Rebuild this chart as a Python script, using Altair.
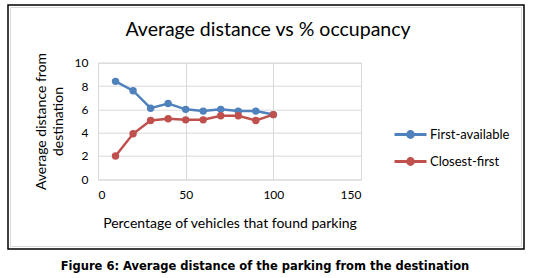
import altair as alt
import pandas as pd

pct = [10, 20, 30, 40, 50, 60, 70, 80, 90, 100]
first_available = [8.4, 7.6, 6.1, 6.5, 6.0, 5.85, 6.0, 5.85, 5.85, 5.55]
closest_first = [2.0, 3.9, 5.05, 5.2, 5.1, 5.1, 5.45, 5.45, 5.05, 5.55]
series_names = ["First-available", "Closest-first"]
series_colors = ["#4F81BD", "#C0504D"]
x_ticks = [0, 50, 100, 150]
y_ticks = [0, 2, 4, 6, 8, 10]
chart_title = "Average distance vs % occupancy"
x_title = "Percentage of vehicles that found parking"
y_title = ["Average distance from", "destination"]
caption = ["Figure 6: Average distance of the parking from the destination"]

rows = []
for name, vals in zip(series_names, [first_available, closest_first]):
    for p, v in zip(pct, vals):
        rows.append({"pct": p, "dist": v, "series": name})
df = pd.DataFrame(rows)

FONT = "Lato"
W, H = 263, 116.6
L, T = 98, 62.7

one = pd.DataFrame({"a": [0]})
frame_outer = alt.Chart(one).mark_rect(fill=None, stroke="#000000", strokeWidth=1.5).encode(
    x=alt.value(8 - L), x2=alt.value(524 - L), y=alt.value(5 - T), y2=alt.value(249 - T)
)
frame_inner = alt.Chart(one).mark_rect(fill=None, stroke="#D9D9D9", strokeWidth=1).encode(
    x=alt.value(10.5 - L), x2=alt.value(521.5 - L), y=alt.value(7.5 - T), y2=alt.value(246.5 - T)
)
cap = alt.Chart(pd.DataFrame({"t": caption})).mark_text(
    font="DejaVu Sans", fontSize=11.5, fontWeight="bold", color="#000000", align="center", baseline="middle"
).encode(text="t:N", x=alt.value(265 - L), y=alt.value(267 - T))

color = alt.Color(
    "series:N",
    scale=alt.Scale(domain=series_names, range=series_colors),
    legend=alt.Legend(
        title=None,
        orient="none",
        legendX=393 - L,
        legendY=133 - T - 16,
        symbolType="M-1,0L1,0M0.18,0A0.18,0.18,0,1,1,-0.18,0A0.18,0.18,0,1,1,0.18,0Z",
        symbolSize=1024,
        symbolStrokeWidth=3,
        labelFont=FONT,
        labelFontSize=13,
        labelColor="#000000",
        labelOffset=2,
        rowPadding=-6,
    ),
)

lines = alt.Chart(df).mark_line(
    strokeWidth=2.5,
    point=alt.OverlayMarkDef(filled=True, size=55),
).encode(
    x=alt.X("pct:Q", scale=alt.Scale(domain=[0, 150], nice=False),
            axis=alt.Axis(values=x_ticks, title=x_title, titlePadding=16)),
    y=alt.Y("dist:Q", scale=alt.Scale(domain=[0, 10], nice=False),
            axis=alt.Axis(values=y_ticks, title=y_title, titleX=41 - L, titleY=H / 2,
                          titleBaseline="middle", titleAngle=270, titleLineHeight=17)),
    color=color,
    order=alt.Order("pct:Q"),
)

chart = alt.layer(frame_outer, frame_inner, cap, lines).properties(
    width=W, height=H,
    background="white",
    padding={"left": L, "top": T, "right": 544 - L - W, "bottom": 278 - T - H},
    autosize=alt.AutoSizeParams(type="none"),
    title=alt.TitleParams(chart_title, font=FONT, fontSize=19.5, fontWeight="normal", color="#000000",
                          anchor="middle", frame="group", dx=38.5, dy=18, baseline="alphabetic",
                          offset=-32.75),
).configure_view(stroke="#D9D9D9", strokeWidth=1).configure_axis(
    grid=True, gridColor="#D9D9D9", gridWidth=1, domain=False, ticks=False,
    labelFont=FONT, labelFontSize=12, labelColor="#000000", labelPadding=10,
    titleFont=FONT, titleFontSize=14, titleFontWeight="normal", titleColor="#000000",
)

chart.save("out.html", embed_options={"renderer": "svg", "actions": False})
